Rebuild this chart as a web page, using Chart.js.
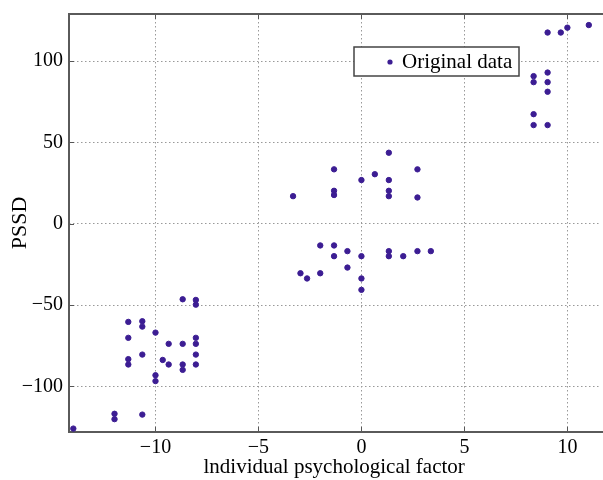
<!DOCTYPE html>
<html>
<head>
<meta charset="utf-8">
<script src="https://cdn.jsdelivr.net/npm/chart.js@4/dist/chart.umd.min.js"></script>
<style>
  html, body { margin: 0; padding: 0; background: #fff; overflow: hidden; }
  canvas { display: block; }
</style>
</head>
<body>
<canvas id="chart" width="603" height="480"></canvas>
<script>
// Data

const xValues = [
  8.36, 8.36, 8.36, 8.36, 9.04, 9.04, 9.04, 9.04, 9.04, 9.68, 10.0, 11.04,
  -3.32, -1.33, -1.33, -1.33, 0, 0.65, 1.33, 1.33, 1.33, 1.33, 2.72, 2.72,
  -2.96, -2.64, -2.0, -2.0, -1.33, -1.33, -0.68, -0.68, 0, 0, 0, 1.33, 1.33, 2.03, 2.72, 3.37,
  -8.68, -8.04, -8.04, -11.32, -10.64, -10.64, -10.0, -11.32, -8.04, -9.36, -8.68, -8.04,
  -10.64, -8.04, -9.65, -11.32, -11.32, -9.36, -8.68, -8.04, -8.68, -10.0, -10.0,
  -11.99, -11.99, -10.64, -13.99
];
const yValues = [
  90.8, 87.1, 67.4, 60.7, 117.6, 93, 87.1, 81.2, 60.7, 117.6, 120.6, 122.2,
  17, 33.5, 20.3, 17.7, 26.9, 30.5, 43.7, 26.9, 20.3, 17, 33.5, 16.2,
  -30.4, -33.6, -13.3, -30.4, -13.3, -19.9, -16.8, -26.9, -19.9, -33.6, -40.6, -16.8, -19.9, -19.9, -16.8, -16.8,
  -46.4, -46.8, -49.7, -60.3, -59.9, -63.2, -66.9, -70.1, -70.1, -73.8, -73.8, -73.8,
  -80.4, -80.4, -83.7, -83.2, -86.5, -86.5, -86.5, -86.5, -89.8, -93.1, -96.7,
  -116.8, -120.1, -117.3, -125.9
];
const xTicks = [-10, -5, 0, 5, 10];
const yTicks = [-100, -50, 0, 50, 100];
const seriesLabel = 'Original data';

const points = xValues.map((x, i) => ({x: x, y: yValues[i]}));

const fontFamily = '"Liberation Serif", "Times New Roman", serif';
const markColor = '#3c1d93';

// Frame, inner tick marks and legend box

const framePlugin = {
    id: 'frame',
    beforeDatasetsDraw(chart) {
        const ctx = chart.ctx,
              a = chart.chartArea,
              xs = chart.scales.x,
              ys = chart.scales.y;
        ctx.save();
        ctx.strokeStyle = '#555';
        ctx.lineWidth = 1;
        xTicks.forEach(v => {
            const px = Math.round(xs.getPixelForValue(v)) + 0.5;
            ctx.beginPath();
            ctx.moveTo(px, a.top); ctx.lineTo(px, a.top + 5);
            ctx.moveTo(px, a.bottom); ctx.lineTo(px, a.bottom - 5);
            ctx.stroke();
        });
        yTicks.forEach(v => {
            const py = Math.round(ys.getPixelForValue(v)) + 0.5;
            ctx.beginPath();
            ctx.moveTo(a.left, py); ctx.lineTo(a.left + 5, py);
            ctx.stroke();
        });
        ctx.lineWidth = 2;
        ctx.strokeStyle = '#5a5a5a';
        ctx.beginPath();
        ctx.moveTo(chart.width, a.top);
        ctx.lineTo(a.left, a.top);
        ctx.lineTo(a.left, a.bottom);
        ctx.lineTo(chart.width, a.bottom);
        ctx.stroke();
        ctx.restore();
    },
    afterDraw(chart) {
        const ctx = chart.ctx;
        const ds = chart.data.datasets[0];
        ctx.save();
        ctx.fillStyle = '#fff';
        ctx.fillRect(354, 47, 165, 29);
        ctx.strokeStyle = '#444';
        ctx.lineWidth = 1.5;
        ctx.strokeRect(354, 47, 165, 29);
        ctx.fillStyle = ds.backgroundColor;
        ctx.beginPath();
        ctx.arc(390, 62, 2.6, 0, Math.PI * 2);
        ctx.fill();
        ctx.fillStyle = '#000';
        ctx.font = '21px ' + fontFamily;
        ctx.textBaseline = 'middle';
        ctx.fillText(ds.label, 402, 62);
        ctx.restore();
    }
};

const canvas = document.getElementById('chart');

let scatterChart = new Chart(canvas, {
    type: 'scatter',
    data: {
        datasets: [{
            label: seriesLabel,
            data: points,
            backgroundColor: markColor,
            borderColor: markColor,
            borderWidth: 1,
            pointRadius: 2.7,
            pointHoverRadius: 2.7,
            clip: false
        }]
    },
    options: {
        responsive: false,
        animation: false,
        layout: {
            padding: {top: 14, right: -5, left: 0, bottom: 0}
        },
        plugins: {
            legend: {display: false},
            tooltip: {enabled: false}
        },
        scales: {
            x: {
                type: 'linear',
                min: -14.2,
                max: 11.55,
                afterBuildTicks: (scale) => { scale.ticks = xTicks.map(v => ({value: v})); },
                afterFit: (scale) => { scale.height = 48; },
                border: {display: false, dash: [1.5, 2.5]},
                grid: {color: '#999', lineWidth: 1, drawTicks: false},
                ticks: {
                    padding: 4,
                    color: '#000',
                    font: {family: fontFamily, size: 20},
                    maxRotation: 0,
                    callback: (v) => v < 0 ? '\u2212' + Math.abs(v) : String(v)
                },
                title: {
                    display: true,
                    text: 'lndividual psychological factor',
                    color: '#000',
                    font: {family: fontFamily, size: 21},
                    padding: {top: 0, bottom: 0}
                }
            },
            y: {
                type: 'linear',
                min: -128,
                max: 129,
                afterBuildTicks: (scale) => { scale.ticks = yTicks.map(v => ({value: v})); },
                afterFit: (scale) => {
                    scale.width = 69;
                    scale.paddingTop = 0;
                    scale.paddingBottom = 0;
                },
                border: {display: false, dash: [1.5, 2.5]},
                grid: {color: '#999', lineWidth: 1, drawTicks: false},
                ticks: {
                    padding: 6,
                    color: '#000',
                    font: {family: fontFamily, size: 20},
                    callback: (v) => v < 0 ? '\u2212' + Math.abs(v) : String(v)
                },
                title: {
                    display: true,
                    text: 'PSSD',
                    color: '#000',
                    font: {family: fontFamily, size: 22},
                    padding: {top: 7, bottom: 4}
                }
            }
        }
    },
    plugins: [framePlugin]
});
</script>
</body>
</html>
